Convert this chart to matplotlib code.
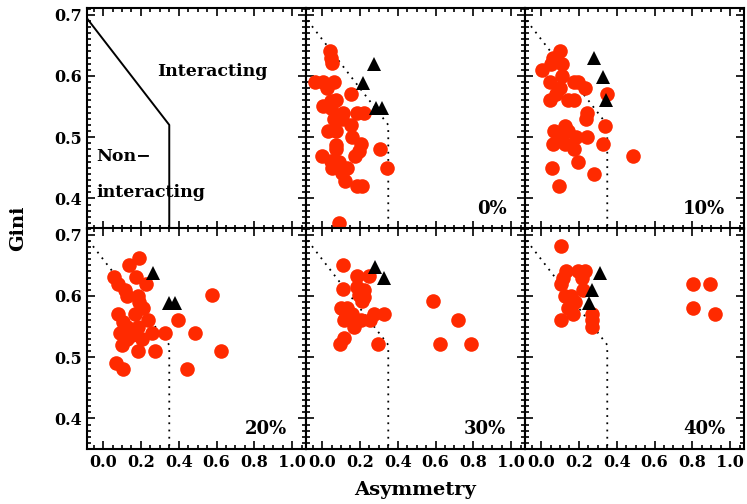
import numpy as np
import matplotlib.pyplot as plt
from matplotlib.ticker import MultipleLocator

plt.rcParams['font.family'] = 'DejaVu Serif'
plt.rcParams['font.weight'] = 'bold'

# boundary between interacting / non-interacting (G = -0.4A + 0.66, A = 0.35)
bound_A = [-0.1, 0.35, 0.35]
bound_G = [0.70, 0.52, 0.35]

labels = ["0%", "10%", "20%", "30%", "40%"]

# red circles: (asymmetry, gini) per panel
circ_A0 = [0.042, 0.046, 0.051, -0.037, 0.005, 0.025, 0.063, 0.151, 0.005, 0.046, 0.072, 0.046, 0.112,
           0.186, 0.221, 0.063, 0.104, 0.151, 0.033, 0.075, 0.160, 0.072, 0.075, 0.204, 0.195, 0.305,
           -0.002, 0.174, 0.046, 0.089, 0.054, 0.133, 0.107, 0.344, 0.121, 0.186, 0.212, 0.089]
circ_G0 = [0.641, 0.630, 0.621, 0.590, 0.590, 0.580, 0.590, 0.570, 0.551, 0.559, 0.560, 0.548, 0.540,
           0.540, 0.540, 0.530, 0.530, 0.520, 0.510, 0.510, 0.500, 0.488, 0.480, 0.489, 0.477, 0.480,
           0.469, 0.470, 0.461, 0.460, 0.450, 0.450, 0.442, 0.450, 0.429, 0.420, 0.420, 0.360]
circ_A10 = [0.098, 0.063, 0.054, 0.112, 0.007, 0.112, 0.046, 0.172, 0.195, 0.230, 0.098, 0.077, 0.347,
            0.046, 0.142, 0.172, 0.242, 0.235, 0.340, 0.125, 0.067, 0.142, 0.095, 0.186, 0.242, 0.063,
            0.125, 0.330, 0.172, 0.484, 0.195, 0.060, 0.279, 0.095]
circ_G10 = [0.640, 0.630, 0.620, 0.620, 0.610, 0.600, 0.590, 0.590, 0.590, 0.580, 0.580, 0.570, 0.570,
            0.560, 0.560, 0.560, 0.540, 0.530, 0.519, 0.519, 0.510, 0.510, 0.500, 0.500, 0.500, 0.489,
            0.489, 0.489, 0.480, 0.469, 0.459, 0.450, 0.440, 0.420]
circ_A20 = [0.191, 0.137, 0.058, 0.174, 0.077, 0.225, 0.116, 0.125, 0.186, 0.191, 0.212, 0.577, 0.081,
            0.168, 0.239, 0.396, 0.125, 0.186, 0.089, 0.160, 0.261, 0.330, 0.484, 0.125, 0.204, 0.098,
            0.186, 0.274, 0.621, 0.068, 0.107, 0.444, 0.151, 0.107]
circ_G20 = [0.662, 0.650, 0.631, 0.631, 0.620, 0.620, 0.610, 0.600, 0.600, 0.590, 0.581, 0.601, 0.570,
            0.570, 0.560, 0.560, 0.550, 0.550, 0.540, 0.540, 0.540, 0.540, 0.540, 0.530, 0.530, 0.520,
            0.510, 0.510, 0.510, 0.490, 0.480, 0.480, 0.536, 0.558]
circ_A30 = [0.112, 0.186, 0.247, 0.111, 0.186, 0.221, 0.195, 0.221, 0.212, 0.586, 0.098, 0.133, 0.125,
            0.160, 0.274, 0.326, 0.116, 0.204, 0.256, 0.721, 0.168, 0.116, 0.093, 0.295, 0.625, 0.786]
circ_G30 = [0.651, 0.632, 0.632, 0.611, 0.615, 0.610, 0.602, 0.599, 0.591, 0.591, 0.581, 0.580, 0.570,
            0.570, 0.570, 0.570, 0.560, 0.560, 0.560, 0.560, 0.550, 0.531, 0.521, 0.521, 0.521, 0.521]
circ_A40 = [0.107, 0.133, 0.195, 0.230, 0.116, 0.218, 0.107, 0.805, 0.891, 0.221, 0.125, 0.160, 0.177,
            0.142, 0.804, 0.168, 0.270, 0.919, 0.107, 0.270, 0.270]
circ_G40 = [0.681, 0.640, 0.640, 0.640, 0.630, 0.630, 0.620, 0.620, 0.620, 0.610, 0.600, 0.600, 0.590,
            0.580, 0.581, 0.570, 0.570, 0.570, 0.560, 0.560, 0.550]

# black triangles
tri_A0 = [0.277, 0.217, 0.286, 0.317]
tri_G0 = [0.619, 0.589, 0.548, 0.548]
tri_A10 = [0.279, 0.326, 0.344]
tri_G10 = [0.629, 0.599, 0.560]
tri_A20 = [0.265, 0.349, 0.381]
tri_G20 = [0.637, 0.589, 0.589]
tri_A30 = [0.279, 0.326]
tri_G30 = [0.647, 0.629]
tri_A40 = [0.312, 0.268, 0.251]
tri_G40 = [0.638, 0.609, 0.589]

circA = [circ_A0, circ_A10, circ_A20, circ_A30, circ_A40]
circG = [circ_G0, circ_G10, circ_G20, circ_G30, circ_G40]
triA = [tri_A0, tri_A10, tri_A20, tri_A30, tri_A40]
triG = [tri_G0, tri_G10, tri_G20, tri_G30, tri_G40]

fig = plt.figure(figsize=(7.47, 5.04), dpi=100)
L, W = 87 / 747, 219 / 747
H = 221 / 504
bottoms = [1 - 229 / 504, 1 - 449 / 504]

axes = []
for r in range(2):
    for c in range(3):
        ax = fig.add_axes([L + c * W, bottoms[r], W, H])
        ax.set_xlim(-0.085, 1.073)
        ax.set_ylim(0.35, 0.711)
        ax.xaxis.set_major_locator(MultipleLocator(0.2))
        ax.xaxis.set_minor_locator(MultipleLocator(0.05))
        ax.yaxis.set_major_locator(MultipleLocator(0.1))
        ax.yaxis.set_minor_locator(MultipleLocator(0.01))
        ax.tick_params(which='both', direction='in', top=True, right=True, labelsize=11.5, width=1.2)
        ax.tick_params(which='major', length=6)
        ax.tick_params(which='minor', length=3)
        for s in ax.spines.values():
            s.set_linewidth(1.5)
        if c > 0:
            ax.tick_params(labelleft=False)
        if r == 0:
            ax.tick_params(labelbottom=False)
        ax.xaxis.set_major_formatter(plt.FormatStrFormatter('%.1f'))
        ax.yaxis.set_major_formatter(plt.FormatStrFormatter('%.1f'))
        axes.append(ax)

# first panel: classification diagram
ax = axes[0]
ax.plot(bound_A, bound_G, color='black', lw=1.4)
ax.text(0.58, 0.608, "Interacting", ha='center', va='center', fontsize=12.5)
ax.text(-0.035, 0.469, "Non\u2212", ha='left', va='center', fontsize=12.5)
ax.text(-0.035, 0.409, "interacting", ha='left', va='center', fontsize=12.5)

for i in range(5):
    ax = axes[i + 1]
    ax.plot(bound_A, bound_G, color='black', lw=1.3, linestyle=(0, (1, 3)))
    ax.plot(circA[i], circG[i], 'o', color='#ff2a00', markersize=10.5, markeredgewidth=0)
    ax.plot(triA[i], triG[i], '^', color='black', markersize=9.5, markeredgewidth=0)
    ax.text(0.915, 0.09, labels[i], transform=ax.transAxes, ha='right', va='center', fontsize=13)

fig.text(0.024, (bottoms[1] + bottoms[0] + H) / 2, "Gini", rotation=90, ha='center', va='center', fontsize=14)
fig.text(L + 1.5 * W, 0.027, "Asymmetry", ha='center', va='center', fontsize=14)

fig.savefig("out.png", dpi=100)
